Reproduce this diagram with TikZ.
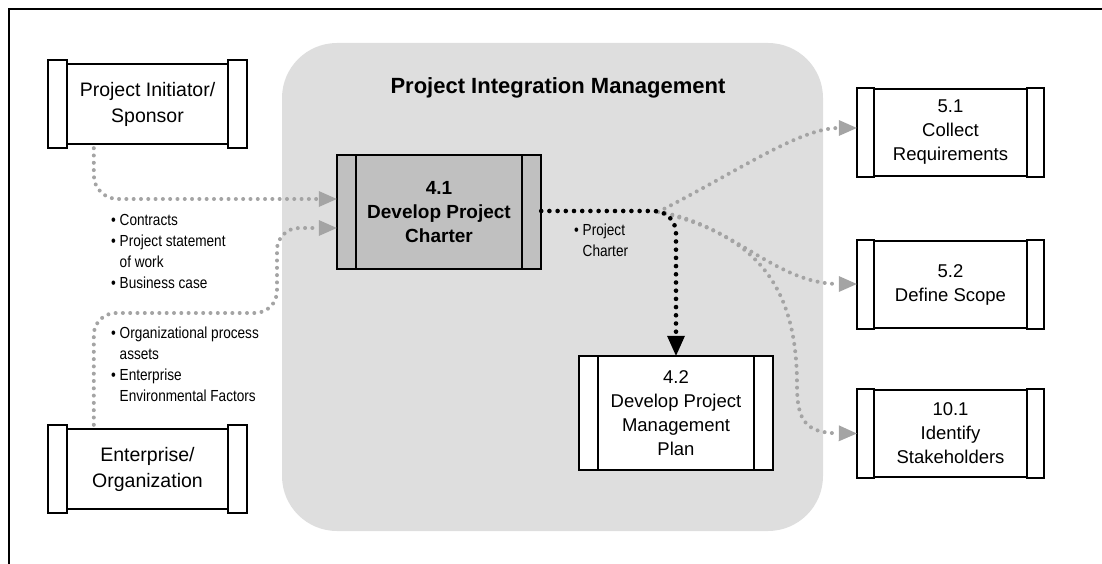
\documentclass[tikz,border=0pt]{standalone}
\usepackage{fontspec}
\setmainfont{Liberation Sans}
\newfontfamily\narrowfont[FakeStretch=0.85]{Liberation Sans}
\usetikzlibrary{arrows.meta,calc}
\definecolor{regiongray}{HTML}{DEDEDE}
\definecolor{dotgray}{HTML}{A4A4A4}
\definecolor{procgray}{HTML}{C0C0C0}
\newcommand\procbars[3]{%
  \draw[boxline] (#1.north west) rectangle ([xshift=#2]#1.south west);
  \draw[boxline] ([xshift=-#2]#1.north east) rectangle (#1.south east);
  \draw[boxline] ([xshift=#2,yshift=-#3]#1.north west) -- ([xshift=-#2,yshift=-#3]#1.north east);
  \draw[boxline] ([xshift=#2,yshift=#3]#1.south west) -- ([xshift=-#2,yshift=#3]#1.south east);
}
\begin{document}
\begin{tikzpicture}[x=1pt,y=-1pt,
  boxline/.style={draw=black,line width=1.7pt},
  proc/.style={inner sep=0pt,align=center,fill=white,font=\fontsize{18.5}{24}\selectfont},
  actor/.style={proc,minimum width=199pt,minimum height=88pt,font=\fontsize{19.5}{26}\selectfont},
  rproc/.style={proc,minimum width=187pt,minimum height=89pt},
  region/.style={fill=regiongray,rounded corners=55pt,inner sep=0pt},
  blist/.style={font=\narrowfont\fontsize{16}{21}\selectfont,align=left,inner sep=0pt,anchor=base west},
  gdot/.style={draw=dotgray,line width=4pt,line cap=round,dash pattern=on 0pt off 7.3pt,
    -{Triangle[length=18pt,width=16pt,line width=0pt]}},
  bdot/.style={draw=black,line width=4.6pt,line cap=round,dash pattern=on 0pt off 8.2pt,
    -{Triangle[length=20pt,width=18pt,line width=0pt]}},
]
\useasboundingbox (0,0) rectangle (1102,564);
\draw[line width=2pt] (9,570) -- (9,9) -- (1110,9);

\node[region,minimum width=541pt,minimum height=488pt] (pim) at (552.5,287) {};
\node[font=\bfseries\fontsize{22}{26}\selectfont] (title) at (558,88) {Project Integration Management};

\node[actor] (pi) at (147.5,104) {Project Initiator/\\Sponsor};
\procbars{pi}{19pt}{4pt}
\node[actor] (eo) at (147.5,469) {Enterprise/\\Organization};
\procbars{eo}{19pt}{4pt}

\node[proc,fill=procgray,minimum width=204pt,minimum height=114pt,font=\bfseries\fontsize{19}{24}\selectfont] (c41) at (439,212) {4.1\\Develop Project\\Charter};
\procbars{c41}{19pt}{0pt}

\node[proc,minimum width=194pt,minimum height=114pt] (c42) at (676,413) {4.2\\Develop Project\\Management\\Plan};
\procbars{c42}{19pt}{0pt}

\node[rproc] (c51) at (950.5,132.5) {5.1\\Collect\\Requirements};
\procbars{c51}{17pt}{1pt}
\node[rproc] (c52) at (950.5,284.5) {5.2\\Define Scope};
\procbars{c52}{17pt}{1pt}
\node[rproc] (c101) at (950.5,433.5) {10.1\\Identify\\Stakeholders};
\procbars{c101}{17pt}{1pt}

\node[blist] (l1) at (111,288) {\textbullet\ Contracts\\\textbullet\ Project statement\\\hphantom{\textbullet\ }of work\\\textbullet\ Business case};
\node[blist] (l2) at (111,401) {\textbullet\ Organizational process\\\hphantom{\textbullet\ }assets\\\textbullet\ Enterprise\\\hphantom{\textbullet\ }Environmental Factors};
\node[blist] (l3) at (574,256) {\textbullet\ Project\\\hphantom{\textbullet\ }Charter};

\draw[gdot,rounded corners=24pt] ([xshift=46pt]pi.south west) |- ([yshift=13pt]c41.west);
\draw[gdot,rounded corners=22pt] ([xshift=46pt]eo.north west) |- (277,313) |- ([yshift=-16pt]c41.west);

\coordinate (split) at (658,212);
\draw[gdot] (split) .. controls (740,170) and (800,128) .. ([yshift=4.5pt]c51.west);
\draw[gdot] (split) .. controls (730,222) and (775,284) .. ([yshift=0.5pt]c52.west);
\draw[gdot] (split) .. controls (760,235) and (797,290) .. (797,385) .. controls (797,420) and (805,433) .. (c101.west);

\draw[bdot,rounded corners=22pt] ([yshift=1pt]c41.east) -| (c42.north);
\end{tikzpicture}
\end{document}
